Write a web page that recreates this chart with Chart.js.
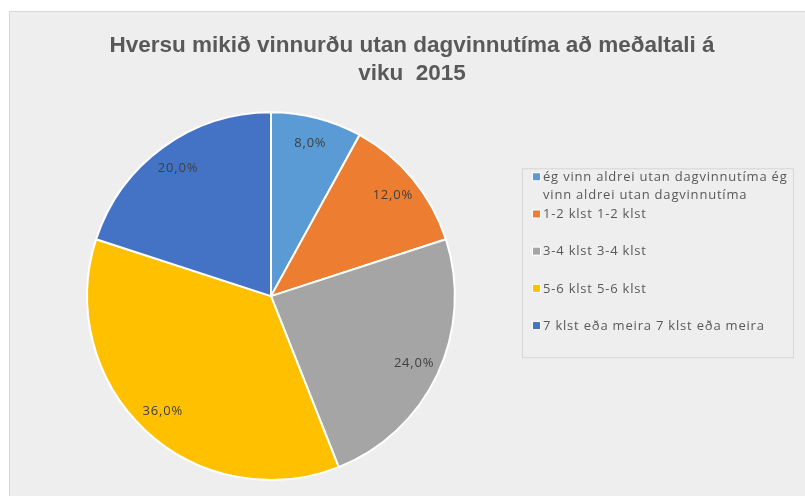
<!DOCTYPE html>
<html>
<head>
<meta charset="utf-8">
<script src="https://cdn.jsdelivr.net/npm/chart.js@4.4.1/dist/chart.umd.min.js"></script>
<style>
  html, body { margin: 0; padding: 0; background: #fff; }
  #wrap { position: relative; width: 805px; height: 496px; overflow: hidden; }
  #panel { position: absolute; left: 9px; top: 11px; right: 0; bottom: 0;
           background: #eeeeee; border-left: 1px solid #d8d8d8; border-top: 1px solid #d8d8d8; }
  #c { position: absolute; left: 0; top: 0; }
</style>
</head>
<body>
<div id="wrap">
  <div id="panel"></div>
  <canvas id="c" width="805" height="496"></canvas>
</div>
<script>
// ====================
// データ
// ====================
const titleLines = ["Hversu mikið vinnurðu utan dagvinnutíma að meðaltali á", "viku  2015"];
const categories = ["ég vinn aldrei utan dagvinnutíma", "1-2 klst", "3-4 klst", "5-6 klst", "7 klst eða meira"];
const values = [8, 12, 24, 36, 20];
const colors = ["#5B9BD5", "#ED7D31", "#A5A5A5", "#FFC000", "#4472C4"];

const textColor = "#595959";
const legendFont = '13px "Open Sans"';

// Excel style: "kategoria kategoria"
const legendLabels = categories.map(c => c + " " + c);

function pct(v) {
    const total = values.reduce((a, b) => a + b, 0);
    return (v / total * 100).toFixed(1).replace(".", ",") + "%";
}

function wrapText(ctx, text, maxW) {
    const words = text.split(" ");
    const lines = [];
    let line = "";
    words.forEach(w => {
        const test = line ? line + " " + w : w;
        if (line && ctx.measureText(test).width > maxW) {
            lines.push(line);
            line = w;
        } else {
            line = test;
        }
    });
    if (line) lines.push(line);
    return lines;
}

// ====================
// 右側の凡例パネル（レイアウトボックス）
// ====================
const legendPanel = {
    id: "legendPanel",
    beforeInit(chart) {
        const box = {
            position: "right",
            weight: 0,
            fullSize: false,
            options: {},
            left: 0, top: 0, right: 0, bottom: 0, width: 0, height: 0,
            isHorizontal() { return false; },
            update(maxW, maxH) { this.width = 282; this.height = maxH; },
            draw() {
                const ctx = chart.ctx;
                const x0 = this.left - 1;
                const y0 = this.top + 57;
                ctx.save();
                ctx.strokeStyle = "#d6d6d6";
                ctx.lineWidth = 1;
                ctx.strokeRect(x0 + 0.5, y0 + 0.5, 271, 189);
                ctx.font = legendFont;
                ctx.letterSpacing = "0.8px";
                ctx.textBaseline = "middle";
                ctx.textAlign = "left";
                let y = y0 + 9;
                legendLabels.forEach((label, i) => {
                    ctx.fillStyle = "#ffffff";
                    ctx.fillRect(x0 + 10, y - 5, 9, 9);
                    ctx.fillStyle = colors[i];
                    ctx.fillRect(x0 + 11, y - 4, 7, 7);
                    ctx.fillStyle = textColor;
                    const lines = wrapText(ctx, label, 248);
                    lines.forEach((ln, j) => ctx.fillText(ln, x0 + 21, y + j * 18));
                    y += 37.2;
                });
                ctx.restore();
            }
        };
        Chart.layouts.addBox(chart, box);
    }
};

// ====================
// データラベル
// ====================
const sliceLabels = {
    id: "sliceLabels",
    afterDatasetsDraw(chart) {
        const ctx = chart.ctx;
        const meta = chart.getDatasetMeta(0);
        ctx.save();
        ctx.font = '13px "Open Sans"';
        ctx.letterSpacing = "0.8px";
        ctx.fillStyle = "#404040";
        ctx.textAlign = "center";
        ctx.textBaseline = "middle";
        meta.data.forEach((arc, i) => {
            const p = arc.getProps(["x", "y", "startAngle", "endAngle", "outerRadius"], true);
            const mid = (p.startAngle + p.endAngle) / 2;
            const r = p.outerRadius * 0.86;
            ctx.fillText(pct(values[i]), p.x + Math.cos(mid) * r, p.y + Math.sin(mid) * r);
        });
        ctx.restore();
    }
};

new Chart(document.getElementById("c"), {
    type: "pie",
    data: {
        labels: categories,
        datasets: [{
            data: values,
            backgroundColor: colors,
            borderColor: "#ffffff",
            borderWidth: 2
        }]
    },
    options: {
        responsive: false,
        animation: false,
        events: [],
        layout: { padding: { top: 11, left: 19, right: 0, bottom: 15 } },
        plugins: {
            legend: { display: false },
            tooltip: { enabled: false },
            title: {
                display: true,
                text: titleLines,
                color: textColor,
                font: { family: '"Liberation Sans"', size: 22.5, weight: "bold", lineHeight: 1.25 },
                padding: { top: 21, bottom: 23 }
            }
        }
    },
    plugins: [legendPanel, sliceLabels]
});
</script>
</body>
</html>
